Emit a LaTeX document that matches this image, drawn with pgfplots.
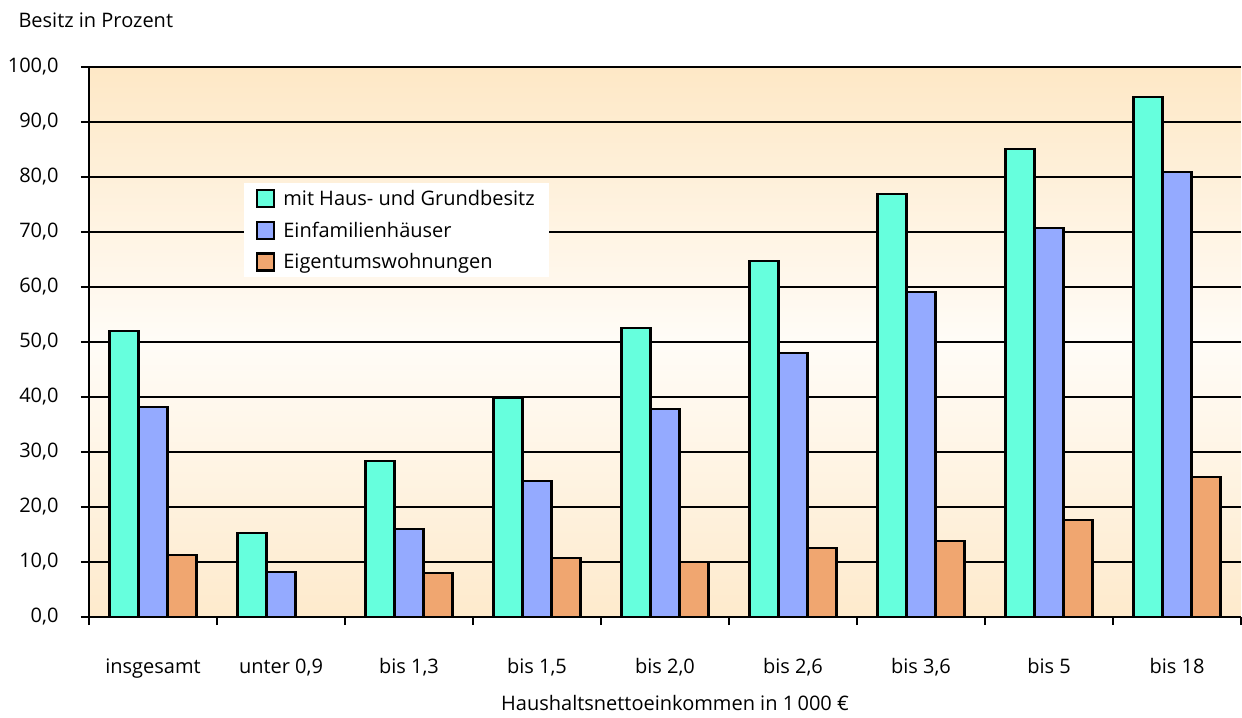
\documentclass[border=0pt]{standalone}
\usepackage{fontspec}
\setmainfont{Open Sans}
\usepackage{pgfplots}
\pgfplotsset{compat=1.18}
\definecolor{cgreen}{RGB}{102,255,221}
\definecolor{cblue}{RGB}{148,170,255}
\definecolor{corange}{RGB}{240,166,112}
\definecolor{bgtop}{RGB}{254,232,198}
\definecolor{bgmid}{RGB}{255,252,247}
\definecolor{bgbot}{RGB}{254,234,204}
\begin{document}
\begin{tikzpicture}[font=\fontsize{20bp}{24bp}\selectfont]
\begin{axis}[name=ax, scale only axis, width=1152bp, height=550bp,
  xmin=-0.5, xmax=8.5, ymin=0, ymax=100,
  ybar=0pt, bar width=29bp,
  axis x line*=bottom, axis y line*=left,
  axis line style={black, line width=2bp},
  tick align=outside,
  xtick={0,...,8},
  xticklabels={insgesamt, unter 0{,}9, bis 1{,}3, bis 1{,}5, bis 2{,}0, bis 2{,}6, bis 3{,}6, bis 5, bis 18},
  x tick style={draw=none},
  minor xtick={-0.5,0.5,...,8.5},
  minor x tick style={draw=black, line width=2bp},
  minor tick length=8bp,
  ytick={0,10,...,100},
  y tick style={draw=black, line width=2bp},
  major tick length=8bp,
  ymajorgrids, grid style={black, line width=2bp},
  /pgf/number format/.cd, fixed, fixed zerofill, precision=1, use comma, assume math mode=true, 1000 sep={},
  /pgfplots/.cd,
  xticklabel style={anchor=base, yshift=-48bp},
  yticklabel style={anchor=east, xshift=-19bp},
  axis background/.style={shade, top color=bgtop, bottom color=bgbot, middle color=bgmid},
  every axis plot/.append style={draw=black, line width=2.2bp},
  legend style={at={(rel axis cs:0.1345,0.789)}, anchor=north west, draw=none, fill=white,
    inner xsep=12bp, inner ysep=5bp, row sep=11bp, column sep=6bp, font=\fontsize{20bp}{24bp}\selectfont},
  legend cell align=left,
  legend image code/.code={\draw[#1, line width=2.2bp] (0bp,-8.5bp) rectangle (17bp,8.5bp);},
]
\addplot[fill=cgreen] coordinates {(0,52.0) (1,15.3) (2,28.4) (3,39.8) (4,52.5) (5,64.7) (6,76.9) (7,85.1) (8,94.5)};
\addplot[fill=cblue] coordinates {(0,38.2) (1,8.2) (2,16.0) (3,24.7) (4,37.8) (5,48.0) (6,59.1) (7,70.7) (8,80.9)};
\addplot[fill=corange] coordinates {(0,11.3) (2,8.0) (3,10.7) (4,10.0) (5,12.5) (6,13.8) (7,17.6) (8,25.5)};
\legend{mit Haus- und Grundbesitz, Einfamilienhäuser, Eigentumswohnungen}
\end{axis}
\node[anchor=base west] at ([xshift=-74bp,yshift=39bp]ax.north west) {Besitz in Prozent};
\node[anchor=base] at ([xshift=10bp,yshift=-93bp]ax.south) {Haushaltsnettoeinkommen in 1\,000 €};
\pgfresetboundingbox
\path[use as bounding box] ([xshift=-89bp,yshift=-100bp]ax.south west) rectangle ([xshift=1bp,yshift=67bp]ax.north east);
\end{tikzpicture}
\end{document}
